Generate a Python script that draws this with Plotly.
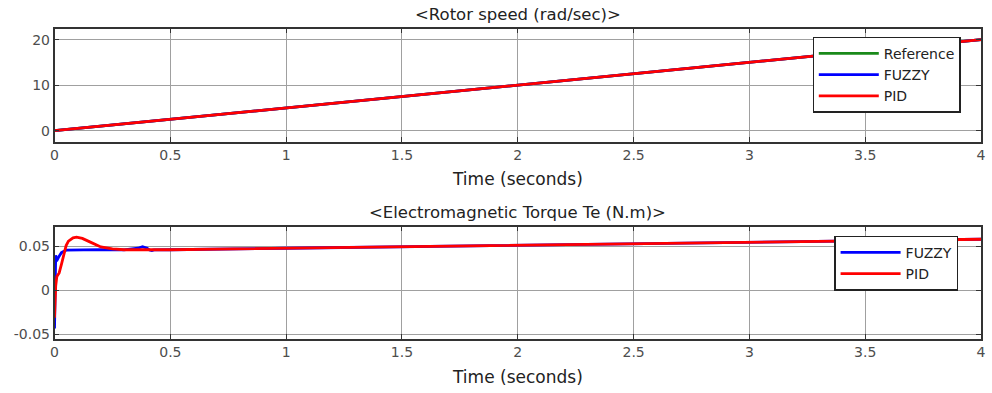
import plotly.graph_objects as go

# ---- data ----
speed_t = [0, 1, 2, 3, 4]
speed_ref = [0, 5, 10, 15, 20]
speed_fuzzy = [0, 5, 10, 15, 20]
speed_pid = [0, 5, 10, 15, 20]

fuzzy_t = [0, 0.002, 0.005, 0.008, 0.012, 0.02, 0.03, 0.05, 0.1, 0.2, 0.3,
           0.36, 0.38, 0.40, 0.41, 0.42, 0.43, 0.5, 1, 2, 3, 4]
fuzzy_te = [-0.043, 0.0, 0.040, 0.036, 0.035, 0.039, 0.043, 0.0458, 0.0463, 0.0465, 0.0462,
            0.048, 0.0497, 0.048, 0.046, 0.0455, 0.0462, 0.0463, 0.048, 0.0514, 0.0548, 0.0582]

pid_t = [0, 0.005, 0.01, 0.02, 0.03, 0.04, 0.05, 0.06, 0.08, 0.095, 0.12, 0.15,
         0.2, 0.25, 0.3, 0.5, 1, 2, 3, 4]
pid_te = [-0.031, 0.005, 0.016, 0.02, 0.03, 0.042, 0.051, 0.056, 0.0598, 0.0605, 0.0592, 0.0555,
          0.0495, 0.0472, 0.0463, 0.0463, 0.048, 0.0514, 0.0548, 0.0582]

x_ticks = [0, 0.5, 1, 1.5, 2, 2.5, 3, 3.5, 4]
x_ticktext = ["0", "0.5", "1", "1.5", "2", "2.5", "3", "3.5", "4"]
speed_ticks = [0, 10, 20]
te_ticks = [-0.05, 0, 0.05]
te_ticktext = ["-0.05", "0", "0.05"]

W, H = 992, 393
FONT = "DejaVu Sans, Liberation Sans, Arial, sans-serif"
GREEN, BLUE, RED = "#1a8a1a", "#0000ff", "#ff0000"

fig = go.Figure()
fig.add_trace(go.Scatter(x=speed_t, y=speed_ref, mode="lines", name="Reference",
                         line=dict(color=GREEN, width=2.8), xaxis="x", yaxis="y", legend="legend"))
fig.add_trace(go.Scatter(x=speed_t, y=speed_fuzzy, mode="lines", name="FUZZY",
                         line=dict(color=BLUE, width=2.8), xaxis="x", yaxis="y", legend="legend"))
fig.add_trace(go.Scatter(x=speed_t, y=speed_pid, mode="lines", name="PID",
                         line=dict(color=RED, width=2.8), xaxis="x", yaxis="y", legend="legend"))
fig.add_trace(go.Scatter(x=fuzzy_t, y=fuzzy_te, mode="lines", name="FUZZY",
                         line=dict(color=BLUE, width=2.8), xaxis="x2", yaxis="y2", legend="legend2"))
fig.add_trace(go.Scatter(x=pid_t, y=pid_te, mode="lines", name="PID",
                         line=dict(color=RED, width=2.8), xaxis="x2", yaxis="y2", legend="legend2"))

x0, x1 = 51 / W, 986 / W
def ydom(top, bot):
    return [1 - bot / H, 1 - top / H]

axis_common = dict(showline=True, mirror="ticks", linecolor="#333333", linewidth=1.5,
                   ticks="inside", ticklen=5, tickcolor="#333333",
                   showgrid=True, gridcolor="#a0a0a0", gridwidth=1, zeroline=False,
                   tickfont=dict(family=FONT, size=14, color="#4d4d4d"))

legend_common = dict(xanchor="left", yanchor="top",
                     bgcolor="white", bordercolor="#222222", borderwidth=1.2,
                     font=dict(family=FONT, size=14, color="#222222"),
                     tracegroupgap=0, itemwidth=60)

fig.update_layout(
    width=W, height=H, margin=dict(l=0, r=0, t=0, b=0),
    paper_bgcolor="white", plot_bgcolor="white",
    font=dict(family=FONT),
    xaxis=dict(domain=[x0, x1], range=[0, 4], tickvals=x_ticks, ticktext=x_ticktext,
               anchor="y", **axis_common),
    yaxis=dict(domain=ydom(29, 143), range=[-2.4, 22.4], tickvals=speed_ticks,
               anchor="x", **axis_common),
    xaxis2=dict(domain=[x0, x1], range=[0, 4], tickvals=x_ticks, ticktext=x_ticktext,
                anchor="y2", **axis_common),
    yaxis2=dict(domain=ydom(229, 342), range=[-0.0545, 0.0725], tickvals=te_ticks,
                ticktext=te_ticktext, anchor="x2", **axis_common),
    legend=dict(x=816 / W, y=1 - 37 / H, **legend_common),
    legend2=dict(x=838 / W, y=1 - 238 / H, **legend_common),
    showlegend=True,
)

cx = (51 + 986) / 2 / W
annots = [
    ("&lt;Rotor speed (rad/sec)&gt;", 15, 16.5),
    ("Time (seconds)", 181, 17),
    ("&lt;Electromagnetic Torque Te (N.m)&gt;", 215, 16.5),
    ("Time (seconds)", 381, 17),
]
for text, ypx, size in annots:
    fig.add_annotation(x=cx, y=1 - ypx / H, xref="paper", yref="paper", text=text,
                       showarrow=False, xanchor="center", yanchor="middle",
                       font=dict(family=FONT, size=size, color="#222222"))

fig.write_html("out.html")
